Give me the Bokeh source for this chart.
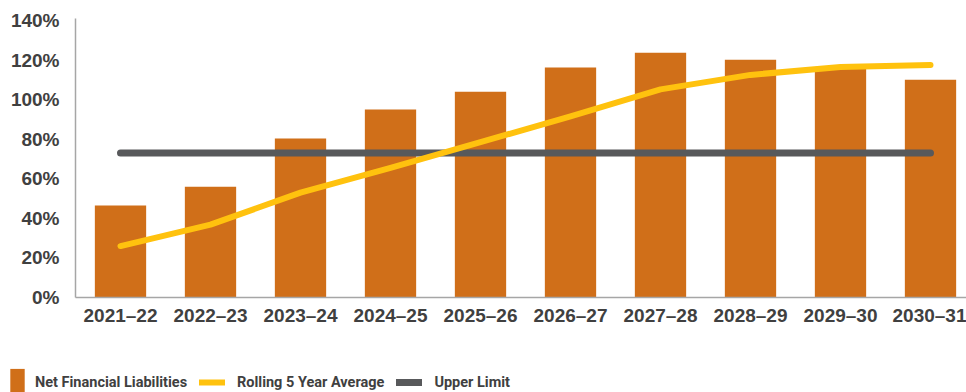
from bokeh.plotting import figure
from bokeh.layouts import column, row
from bokeh.models import (Range1d, FixedTicker, PrintfTickFormatter, Legend,
                          LegendItem, ColumnDataSource)
from bokeh.embed import file_html
from bokeh.resources import INLINE

years = ["2021–22", "2022–23", "2023–24", "2024–25", "2025–26",
         "2026–27", "2027–28", "2028–29", "2029–30", "2030–31"]
net_financial_liabilities = [46.5, 56.0, 80.3, 95.0, 104.0, 116.2, 123.7, 120.2, 116.3, 110.0]
rolling_5yr_average = [26.0, 36.8, 53.0, 65.5, 78.5, 91.5, 105.2, 112.5, 116.5, 117.5]
upper_limit = [73.0, 73.0, 73.0, 73.0, 73.0, 73.0, 73.0, 73.0, 73.0, 73.0]
y_ticks = [0, 20, 40, 60, 80, 100, 120, 140]

idx = list(range(len(years)))
src = ColumnDataSource(dict(x=idx, nfl=net_financial_liabilities,
                            avg=rolling_5yr_average, lim=upper_limit))

BAR = "#D06F19"
YEL = "#FFC20E"
GRY = "#58595B"
TXT = "#404040"
AX = "#A6A6A6"

MAIN_H = 335
p = figure(width=966, height=MAIN_H, output_backend="svg", toolbar_location=None,
           x_range=Range1d(-0.5, 9.4), y_range=Range1d(0, 141),
           min_border_left=75, min_border_right=0, min_border_top=18,
           min_border_bottom=MAIN_H - 297)
p.outline_line_color = None
p.xgrid.visible = False
p.ygrid.visible = False

p.vbar(x="x", top="nfl", width=0.57, source=src, fill_color=BAR, line_color=None)
p.line(x="x", y="lim", source=src, line_color=GRY, line_width=7, line_cap="round")
p.line(x="x", y="avg", source=src, line_color=YEL, line_width=6, line_cap="round",
       line_join="round")

p.xaxis.ticker = FixedTicker(ticks=idx)
p.xaxis.major_label_overrides = {i: y for i, y in zip(idx, years)}
p.yaxis.ticker = FixedTicker(ticks=y_ticks)
p.yaxis.formatter = PrintfTickFormatter(format="%d%%")

for ax in (p.xaxis, p.yaxis):
    ax.major_tick_line_color = None
    ax.minor_tick_line_color = None
    ax.major_tick_out = 0
    ax.major_tick_in = 0
    ax.axis_line_color = AX
    ax.axis_line_width = 1.5
    ax.major_label_text_font = "Liberation Sans"
    ax.major_label_text_font_style = "bold"
    ax.major_label_text_font_size = "19px"
    ax.major_label_text_color = TXT
p.yaxis.major_label_standoff = 16
p.xaxis.major_label_standoff = 7

# legend strip below the chart (keys drawn from renderers parked outside its view)
LEG_H = 392 - MAIN_H
lg = figure(width=966, height=LEG_H, output_backend="svg", toolbar_location=None,
            x_range=Range1d(0, 1), y_range=Range1d(0, 1),
            x_axis_location=None, y_axis_location=None,
            min_border_left=0, min_border_right=0, min_border_top=0, min_border_bottom=0)
lg.outline_line_color = None
lg.xgrid.visible = False
lg.ygrid.visible = False
park = ColumnDataSource(dict(x=[-5, -4], y=[-5, -5], top=[-5, -5]))
k_bar = lg.vbar(x="x", top="top", width=0.5, source=park, fill_color=BAR, line_color=None)
k_avg = lg.line(x="x", y="y", source=park, line_color=YEL, line_width=6, line_cap="round")
k_lim = lg.line(x="x", y="y", source=park, line_color=GRY, line_width=7, line_cap="round")

LFONT = "Roboto"
common = dict(orientation="horizontal", padding=0, margin=0,
              border_line_alpha=0, background_fill_alpha=0,
              label_text_font=LFONT, label_text_font_style="bold",
              label_text_font_size="14.5px", label_text_color=TXT)
leg1 = Legend(items=[LegendItem(label="Net Financial Liabilities", renderers=[k_bar])],
              location=(8, -7), glyph_width=18, glyph_height=34, label_standoff=9,
              spacing=0, **common)
leg2 = Legend(items=[LegendItem(label="Rolling 5 Year Average", renderers=[k_avg]),
                     LegendItem(label="Upper Limit", renderers=[k_lim])],
              location=(199, 0), glyph_width=26, glyph_height=20, label_standoff=12,
              spacing=12, **common)
lg.add_layout(leg1, "center")
lg.add_layout(leg2, "center")

layout = column(p, row(lg, spacing=0), spacing=0)
open("out.html", "w").write(file_html(layout, INLINE))
